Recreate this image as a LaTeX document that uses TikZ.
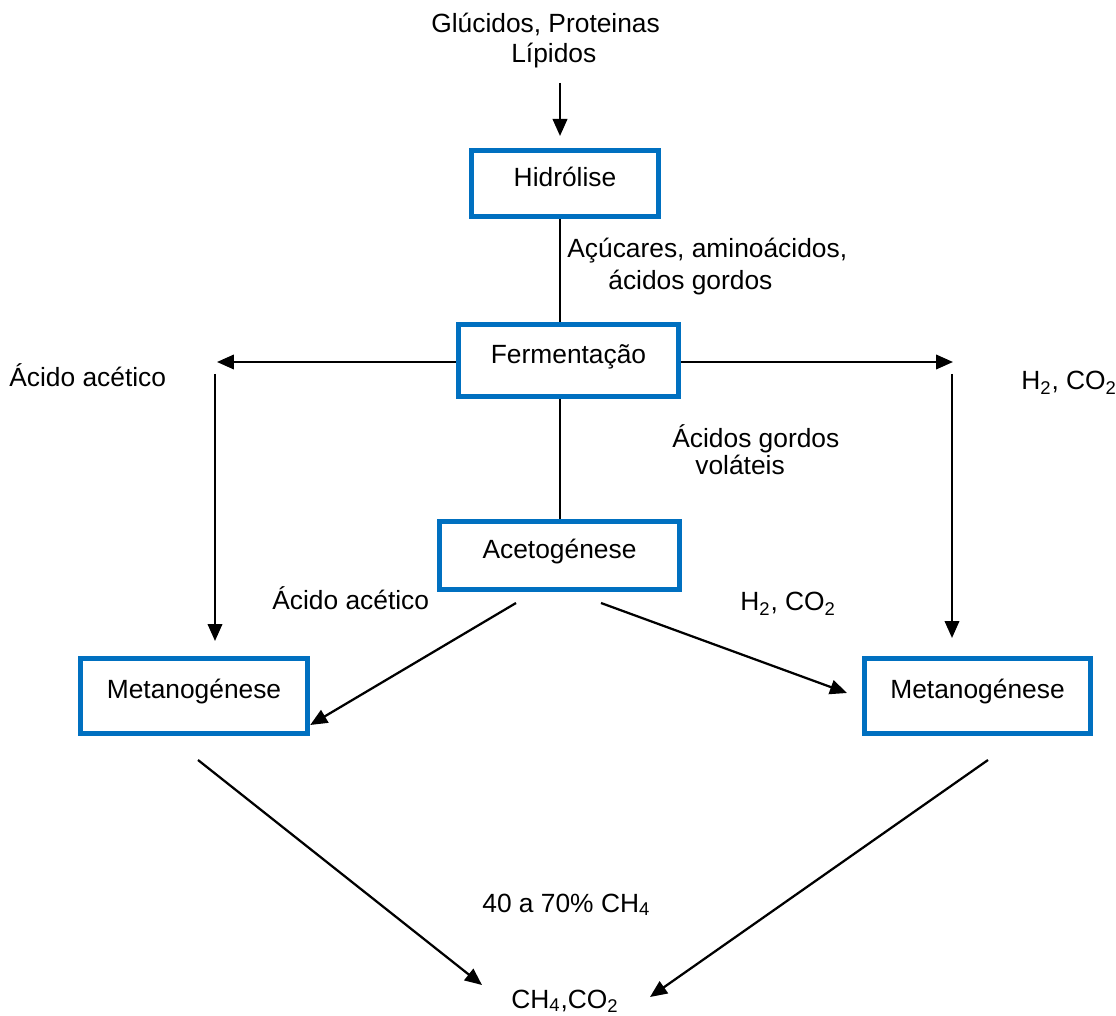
\documentclass[tikz,border=0pt]{standalone}
\usepackage{fontspec}
\setmainfont{Liberation Sans}
\usetikzlibrary{arrows.meta}
\definecolor{azul}{HTML}{0070C0}
\tikzset{
  etapa/.style={draw=azul,line width=0.11cm,inner sep=0pt,text height=11pt,text depth=8pt},
  seta/.style={line width=0.045cm,-{Triangle[length=0.34cm,width=0.29cm]}},
  liga/.style={line width=0.045cm},
  rotulo/.style={inner sep=0pt,anchor=base west,align=left}
}
\begin{document}
\begin{tikzpicture}[x=0.02cm,y=-0.02cm,font=\fontsize{15}{17.6}\selectfont]
  \useasboundingbox (0,0) rectangle (1116,1016);
  % etapas
  \node[etapa,minimum width=3.74cm,minimum height=1.32cm] (hid) at (565,183.5) {Hidrólise};
  \node[etapa,minimum width=4.4cm,minimum height=1.44cm] (fer) at (568.5,360.5) {Fermentação};
  \node[etapa,minimum width=4.8cm,minimum height=1.36cm] (ace) at (559.5,555.5) {Acetogénese};
  \node[etapa,minimum width=4.54cm,minimum height=1.5cm] (metL) at (194,696) {Metanogénese};
  \node[etapa,minimum width=4.52cm,minimum height=1.5cm] (metR) at (977.5,696) {Metanogénese};
  % rotulos (base = ultima linha)
  \node[rotulo] (src) at (431,63) {Glúcidos, Proteinas\\\hspace*{1.6cm}Lípidos};
  \node[rotulo] (acu) at (567,290) {Açúcares, aminoácidos,\\[1.1pt]\hspace*{0.82cm}ácidos gordos};
  \node[rotulo] (agv) at (672,475) {Ácidos gordos\\[-1.7pt]\hspace*{0.46cm}voláteis};
  \node[rotulo] (aaL) at (9,387) {Ácido acético};
  \node[rotulo] (h2R) at (1021,390) {H\textsubscript{2}, CO\textsubscript{2}};
  \node[rotulo] (aaM) at (272,610) {Ácido acético};
  \node[rotulo] (h2M) at (740,611) {H\textsubscript{2}, CO\textsubscript{2}};
  \node[rotulo] (pct) at (482,912) {40 a 70\% CH\textsubscript{4}};
  \node[rotulo] (gas) at (511,1008) {CH\textsubscript{4},CO\textsubscript{2}};
  % pontas livres
  \coordinate (t0) at (560,83);  \coordinate (t1) at (560,136);
  \coordinate (aL) at (217,362); \coordinate (aR) at (953,362);
  \coordinate (vL0) at (215,374); \coordinate (vL1) at (215,641);
  \coordinate (vR0) at (952,374); \coordinate (vR1) at (952,638);
  \coordinate (dL) at (516,603); \coordinate (dR0) at (601,603); \coordinate (dR1) at (847,693);
  \coordinate (bL0) at (198,760); \coordinate (bL1) at (482,985);
  \coordinate (bR0) at (988,760); \coordinate (bR1) at (650,997);
  % ligacoes
  \draw[seta] (t0) -- (t1);
  \draw[liga] (hid.south -| t0) -- (fer.north -| t0) (fer.south -| t0) -- (ace.north -| t0);
  \draw[seta] (fer.west |- aL) -- (aL);
  \draw[seta] (fer.east |- aR) -- (aR);
  \draw[seta] (vL0) -- (vL1);
  \draw[seta] (vR0) -- (vR1);
  \draw[seta] (dL) -- (metL.-14);
  \draw[seta] (dR0) -- (dR1);
  \draw[seta] (bL0) -- (bL1);
  \draw[seta] (bR0) -- (bR1);
\end{tikzpicture}
\end{document}
